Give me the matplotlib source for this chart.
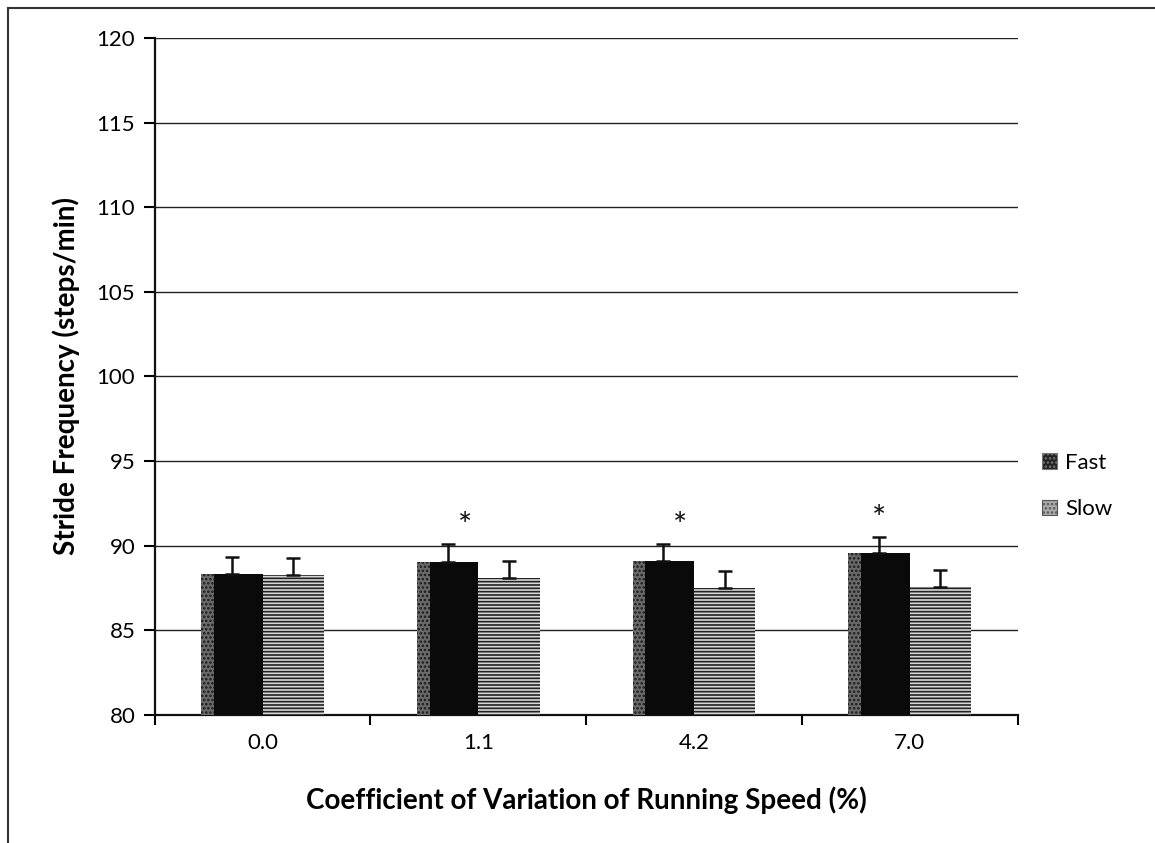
import numpy as np
import matplotlib.pyplot as plt
from matplotlib.lines import Line2D
from matplotlib.patches import Patch

plt.rcParams['font.family'] = ['Lato', 'DejaVu Sans']
plt.rcParams['hatch.linewidth'] = 1.2

# data
categories = ['0.0', '1.1', '4.2', '7.0']
fast = [88.3, 89.05, 89.1, 89.55]
fast_err = [1.0, 1.05, 1.0, 0.95]
slow = [88.25, 88.1, 87.5, 87.55]
slow_err = [1.0, 1.0, 1.0, 1.0]
significant = [False, True, True, True]
star_shift = [0.0, 0.08, 0.08, 0.0]  # stars were placed by hand in the original

fig = plt.figure(figsize=(11.55, 8.43), dpi=100)
ax = fig.add_axes([0.134, 0.152, 0.747, 0.803])

x = np.arange(len(categories))
w = 0.285

ax.bar(x - w / 2, fast, w, color='#0a0a0a', linewidth=0, zorder=3)
# greyish stippled strip on the left of the dark bars (scan look)
ax.bar(x - w + 0.03, fast, 0.06, color='#6a6a6a', edgecolor='#1a1a1a',
       hatch='....', linewidth=0, zorder=3)
ax.bar(x + w / 2, slow, w, color='#d8d8d8', edgecolor='#222222', hatch='-----',
       linewidth=0, zorder=3)
ax.errorbar(x - w / 2, fast, yerr=[np.zeros(4), fast_err], fmt='none',
            ecolor='#111111', elinewidth=1.8, capsize=5, capthick=1.8, zorder=4)
ax.errorbar(x + w / 2, slow, yerr=[np.zeros(4), slow_err], fmt='none',
            ecolor='#111111', elinewidth=1.8, capsize=5, capthick=1.8, zorder=4)

for i, sig in enumerate(significant):
    if sig:
        ax.text(x[i] - w / 2 + star_shift[i], fast[i] + fast_err[i] + 1.0, '*',
                ha='center', va='center', fontsize=24, color='#111111')

ax.set_ylim(80, 120)
ax.set_xlim(-0.5, len(categories) - 0.5)
ax.set_yticks(np.arange(80, 121, 5))
ax.set_xticks(x)
ax.set_xticklabels(categories)
ax.set_xticks(np.arange(-0.5, len(categories), 1), minor=True)
ax.tick_params(axis='x', which='major', length=0, pad=13, labelsize=16)
ax.tick_params(axis='x', which='minor', length=7, width=1.5, direction='out')
ax.tick_params(axis='y', length=8, width=1.5, pad=6, labelsize=16)
ax.grid(axis='y', color='#222222', linewidth=1.0, zorder=0)

for s in ['top', 'right']:
    ax.spines[s].set_visible(False)
for s in ['left', 'bottom']:
    ax.spines[s].set_linewidth(1.6)
    ax.spines[s].set_color('#111111')

ax.set_ylabel('Stride Frequency (steps/min)', fontsize=20, fontweight='bold',
              labelpad=12)
ax.set_xlabel('Coefficient of Variation of Running Speed (%)', fontsize=20,
              fontweight='bold', labelpad=24)

handles = [Patch(facecolor='#222222', edgecolor='#777777', hatch='....', linewidth=0.8),
           Patch(facecolor='#aaaaaa', edgecolor='#555555', hatch='....', linewidth=0.8)]
ax.legend(handles, ['Fast', 'Slow'], loc='center left',
          bbox_to_anchor=(1.005, 0.338), frameon=False, fontsize=16,
          handlelength=0.7, handleheight=0.7, handletextpad=0.35,
          labelspacing=1.2)

# outer chart border (top and left visible in the scan)
fig.add_artist(Line2D([8 / 1155, 1], [1 - 8 / 843, 1 - 8 / 843],
                      color='#333333', linewidth=1.5))
fig.add_artist(Line2D([8 / 1155, 8 / 1155], [0, 1 - 8 / 843],
                      color='#333333', linewidth=1.5))

fig.savefig('out.png', dpi=100, facecolor='white')
